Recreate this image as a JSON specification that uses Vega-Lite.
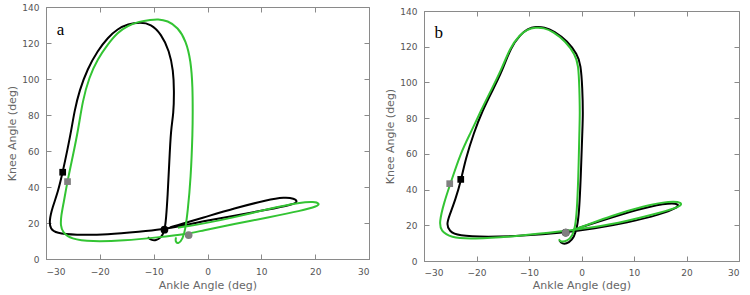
{
  "$schema": "https://vega.github.io/schema/vega-lite/v6.json",
  "padding": {"left": 6, "top": 2, "right": 5, "bottom": 0},
  "background": "white",
  "spacing": 14,
  "config": {
    "view": {"stroke": "#8a8a8a", "strokeWidth": 1},
    "axis": {
      "grid": false,
      "domainColor": "#8a8a8a",
      "tickColor": "#8a8a8a",
      "tickSize": -5,
      "labelFont": "DejaVu Sans",
      "labelFontSize": 9,
      "labelColor": "#555555",
      "titleFont": "DejaVu Sans",
      "titleFontSize": 11,
      "titleFontWeight": "normal",
      "titleColor": "#666666"
    }
  },
  "datasets": {
    "curves": [
      {"p":"a","s":"A","i":0,"x":-11.1,"y":12},
      {"p":"a","s":"A","i":1,"x":-10.5,"y":10.6},
      {"p":"a","s":"A","i":2,"x":-9.6,"y":10.2},
      {"p":"a","s":"A","i":3,"x":-8.6,"y":12},
      {"p":"a","s":"A","i":4,"x":-8.1,"y":14.8},
      {"p":"a","s":"A","i":5,"x":-7.9,"y":17.5},
      {"p":"a","s":"A","i":6,"x":-7.7,"y":22.2},
      {"p":"a","s":"A","i":7,"x":-7.4,"y":35.2},
      {"p":"a","s":"A","i":8,"x":-7.1,"y":53.7},
      {"p":"a","s":"A","i":9,"x":-6.8,"y":72.2},
      {"p":"a","s":"A","i":10,"x":-6.3,"y":80.6},
      {"p":"a","s":"A","i":11,"x":-6.2,"y":93.5},
      {"p":"a","s":"A","i":12,"x":-6.35,"y":104.6},
      {"p":"a","s":"A","i":13,"x":-7.1,"y":115.7},
      {"p":"a","s":"A","i":14,"x":-8.6,"y":125},
      {"p":"a","s":"A","i":15,"x":-10.5,"y":130.6},
      {"p":"a","s":"A","i":16,"x":-12.5,"y":131.5},
      {"p":"a","s":"A","i":17,"x":-14.8,"y":130.6},
      {"p":"a","s":"A","i":18,"x":-16.7,"y":127.8},
      {"p":"a","s":"A","i":19,"x":-18.5,"y":123.1},
      {"p":"a","s":"A","i":20,"x":-20.4,"y":115.7},
      {"p":"a","s":"A","i":21,"x":-22.3,"y":105.6},
      {"p":"a","s":"A","i":22,"x":-23.8,"y":93.5},
      {"p":"a","s":"A","i":23,"x":-24.7,"y":82.4},
      {"p":"a","s":"A","i":24,"x":-25.3,"y":71.5},
      {"p":"a","s":"A","i":25,"x":-26,"y":61},
      {"p":"a","s":"A","i":26,"x":-26.9,"y":48.2},
      {"p":"a","s":"A","i":27,"x":-27.8,"y":37},
      {"p":"a","s":"A","i":28,"x":-28.8,"y":28.7},
      {"p":"a","s":"A","i":29,"x":-29.4,"y":21.3},
      {"p":"a","s":"A","i":30,"x":-29.2,"y":16.7},
      {"p":"a","s":"A","i":31,"x":-28.1,"y":14.3},
      {"p":"a","s":"A","i":32,"x":-24.7,"y":13.3},
      {"p":"a","s":"A","i":33,"x":-18.5,"y":13.5},
      {"p":"a","s":"A","i":34,"x":-12.4,"y":15.2},
      {"p":"a","s":"A","i":35,"x":-8.7,"y":16.3},
      {"p":"a","s":"A","i":36,"x":-4.5,"y":18.6},
      {"p":"a","s":"A","i":37,"x":-1.2,"y":20.7},
      {"p":"a","s":"A","i":38,"x":5,"y":24.1},
      {"p":"a","s":"A","i":39,"x":11.2,"y":27.4},
      {"p":"a","s":"A","i":40,"x":15.8,"y":30.2},
      {"p":"a","s":"A","i":41,"x":16.8,"y":31.8},
      {"p":"a","s":"A","i":42,"x":16.1,"y":33.7},
      {"p":"a","s":"A","i":43,"x":14.3,"y":34.3},
      {"p":"a","s":"A","i":44,"x":11.2,"y":32.9},
      {"p":"a","s":"A","i":45,"x":5,"y":28.2},
      {"p":"a","s":"A","i":46,"x":-1.2,"y":22.6},
      {"p":"a","s":"A","i":47,"x":-4.5,"y":19.8},
      {"p":"a","s":"A","i":48,"x":-7,"y":17.5},
      {"p":"a","s":"B","i":0,"x":-5.85,"y":12},
      {"p":"a","s":"B","i":1,"x":-6,"y":9.6},
      {"p":"a","s":"B","i":2,"x":-5.4,"y":8.3},
      {"p":"a","s":"B","i":3,"x":-4.6,"y":11.1},
      {"p":"a","s":"B","i":4,"x":-4.1,"y":16.7},
      {"p":"a","s":"B","i":5,"x":-3.7,"y":25.9},
      {"p":"a","s":"B","i":6,"x":-3.1,"y":44.4},
      {"p":"a","s":"B","i":7,"x":-2.75,"y":72.2},
      {"p":"a","s":"B","i":8,"x":-2.75,"y":80.6},
      {"p":"a","s":"B","i":9,"x":-2.75,"y":95.4},
      {"p":"a","s":"B","i":10,"x":-3.1,"y":110.2},
      {"p":"a","s":"B","i":11,"x":-4,"y":121.3},
      {"p":"a","s":"B","i":12,"x":-5.5,"y":128.7},
      {"p":"a","s":"B","i":13,"x":-7.4,"y":132.4},
      {"p":"a","s":"B","i":14,"x":-9.25,"y":133.3},
      {"p":"a","s":"B","i":15,"x":-10.5,"y":132.9},
      {"p":"a","s":"B","i":16,"x":-12.7,"y":132},
      {"p":"a","s":"B","i":17,"x":-14.8,"y":129.6},
      {"p":"a","s":"B","i":18,"x":-16.7,"y":125.9},
      {"p":"a","s":"B","i":19,"x":-18.5,"y":119.4},
      {"p":"a","s":"B","i":20,"x":-20.4,"y":111.1},
      {"p":"a","s":"B","i":21,"x":-22,"y":100.9},
      {"p":"a","s":"B","i":22,"x":-23.2,"y":87.9},
      {"p":"a","s":"B","i":23,"x":-24,"y":72},
      {"p":"a","s":"B","i":24,"x":-25,"y":57.4},
      {"p":"a","s":"B","i":25,"x":-26,"y":43.5},
      {"p":"a","s":"B","i":26,"x":-26.7,"y":31.5},
      {"p":"a","s":"B","i":27,"x":-27.2,"y":24},
      {"p":"a","s":"B","i":28,"x":-27.3,"y":18.5},
      {"p":"a","s":"B","i":29,"x":-26.9,"y":14.8},
      {"p":"a","s":"B","i":30,"x":-25.4,"y":11.1},
      {"p":"a","s":"B","i":31,"x":-21.6,"y":9.6},
      {"p":"a","s":"B","i":32,"x":-15.5,"y":10.2},
      {"p":"a","s":"B","i":33,"x":-9.3,"y":12},
      {"p":"a","s":"B","i":34,"x":-3.7,"y":13.9},
      {"p":"a","s":"B","i":35,"x":-1.2,"y":15.7},
      {"p":"a","s":"B","i":36,"x":5,"y":19.4},
      {"p":"a","s":"B","i":37,"x":11.2,"y":23.1},
      {"p":"a","s":"B","i":38,"x":17.4,"y":26.8},
      {"p":"a","s":"B","i":39,"x":20.5,"y":29.3},
      {"p":"a","s":"B","i":40,"x":20.8,"y":30.9},
      {"p":"a","s":"B","i":41,"x":19.8,"y":31.8},
      {"p":"a","s":"B","i":42,"x":17.4,"y":31.5},
      {"p":"a","s":"B","i":43,"x":11.2,"y":27.8},
      {"p":"a","s":"B","i":44,"x":5,"y":23.1},
      {"p":"a","s":"B","i":45,"x":-1.2,"y":19.4},
      {"p":"a","s":"B","i":46,"x":-4.3,"y":18},
      {"p":"a","s":"B","i":47,"x":-5.5,"y":17.4},
      {"p":"b","s":"A","i":0,"x":-4.2,"y":11.5},
      {"p":"b","s":"A","i":1,"x":-3.96,"y":10.3},
      {"p":"b","s":"A","i":2,"x":-3.3,"y":9.4},
      {"p":"b","s":"A","i":3,"x":-2.4,"y":10.3},
      {"p":"b","s":"A","i":4,"x":-1.4,"y":13.1},
      {"p":"b","s":"A","i":5,"x":-0.8,"y":19.6},
      {"p":"b","s":"A","i":6,"x":-0.46,"y":27.1},
      {"p":"b","s":"A","i":7,"x":-0.15,"y":45.7},
      {"p":"b","s":"A","i":8,"x":0.17,"y":73.7},
      {"p":"b","s":"A","i":9,"x":0.29,"y":82.1},
      {"p":"b","s":"A","i":10,"x":0.17,"y":97.1},
      {"p":"b","s":"A","i":11,"x":-0.15,"y":110.1},
      {"p":"b","s":"A","i":12,"x":-0.8,"y":115.7},
      {"p":"b","s":"A","i":13,"x":-2.7,"y":123.2},
      {"p":"b","s":"A","i":14,"x":-5.2,"y":128.8},
      {"p":"b","s":"A","i":15,"x":-7.1,"y":131},
      {"p":"b","s":"A","i":16,"x":-8.7,"y":131.3},
      {"p":"b","s":"A","i":17,"x":-10.3,"y":130},
      {"p":"b","s":"A","i":18,"x":-11.6,"y":126.9},
      {"p":"b","s":"A","i":19,"x":-13.5,"y":119.5},
      {"p":"b","s":"A","i":20,"x":-15.1,"y":106.4},
      {"p":"b","s":"A","i":21,"x":-17,"y":95.2},
      {"p":"b","s":"A","i":22,"x":-18.9,"y":84},
      {"p":"b","s":"A","i":23,"x":-20.5,"y":71.9},
      {"p":"b","s":"A","i":24,"x":-22.1,"y":56.9},
      {"p":"b","s":"A","i":25,"x":-22.9,"y":45.7},
      {"p":"b","s":"A","i":26,"x":-24,"y":34.5},
      {"p":"b","s":"A","i":27,"x":-25.2,"y":25.2},
      {"p":"b","s":"A","i":28,"x":-25.7,"y":20.5},
      {"p":"b","s":"A","i":29,"x":-25.2,"y":16.8},
      {"p":"b","s":"A","i":30,"x":-23.6,"y":14},
      {"p":"b","s":"A","i":31,"x":-17.9,"y":13.4},
      {"p":"b","s":"A","i":32,"x":-11.6,"y":14},
      {"p":"b","s":"A","i":33,"x":-3.3,"y":15.9},
      {"p":"b","s":"A","i":34,"x":2.4,"y":18.2},
      {"p":"b","s":"A","i":35,"x":8.7,"y":21.5},
      {"p":"b","s":"A","i":36,"x":15.1,"y":26.1},
      {"p":"b","s":"A","i":37,"x":18.3,"y":29.9},
      {"p":"b","s":"A","i":38,"x":18.6,"y":31.7},
      {"p":"b","s":"A","i":39,"x":17,"y":32.7},
      {"p":"b","s":"A","i":40,"x":11.9,"y":29.9},
      {"p":"b","s":"A","i":41,"x":5.6,"y":24.3},
      {"p":"b","s":"A","i":42,"x":1,"y":20},
      {"p":"b","s":"A","i":43,"x":-1.5,"y":17.5},
      {"p":"b","s":"B","i":0,"x":-4.3,"y":12.2},
      {"p":"b","s":"B","i":1,"x":-4,"y":10.6},
      {"p":"b","s":"B","i":2,"x":-2.7,"y":11.2},
      {"p":"b","s":"B","i":3,"x":-1.7,"y":14},
      {"p":"b","s":"B","i":4,"x":-1.2,"y":19.5},
      {"p":"b","s":"B","i":5,"x":-0.9,"y":27},
      {"p":"b","s":"B","i":6,"x":-0.6,"y":45.7},
      {"p":"b","s":"B","i":7,"x":-0.4,"y":73.7},
      {"p":"b","s":"B","i":8,"x":-0.3,"y":82},
      {"p":"b","s":"B","i":9,"x":-0.4,"y":97},
      {"p":"b","s":"B","i":10,"x":-0.6,"y":110},
      {"p":"b","s":"B","i":11,"x":-1.2,"y":115.5},
      {"p":"b","s":"B","i":12,"x":-3,"y":123},
      {"p":"b","s":"B","i":13,"x":-5.4,"y":128.5},
      {"p":"b","s":"B","i":14,"x":-7.2,"y":130.6},
      {"p":"b","s":"B","i":15,"x":-8.8,"y":130.8},
      {"p":"b","s":"B","i":16,"x":-10.4,"y":129.6},
      {"p":"b","s":"B","i":17,"x":-11.8,"y":126.5},
      {"p":"b","s":"B","i":18,"x":-13.6,"y":119.5},
      {"p":"b","s":"B","i":19,"x":-15.3,"y":106.8},
      {"p":"b","s":"B","i":20,"x":-17.3,"y":95.2},
      {"p":"b","s":"B","i":21,"x":-19.2,"y":84},
      {"p":"b","s":"B","i":22,"x":-21.1,"y":71.9},
      {"p":"b","s":"B","i":23,"x":-23,"y":60.7},
      {"p":"b","s":"B","i":24,"x":-24.9,"y":43.9},
      {"p":"b","s":"B","i":25,"x":-26.2,"y":32.7},
      {"p":"b","s":"B","i":26,"x":-27.1,"y":21.5},
      {"p":"b","s":"B","i":27,"x":-26.8,"y":16.8},
      {"p":"b","s":"B","i":28,"x":-24.9,"y":13.1},
      {"p":"b","s":"B","i":29,"x":-21.1,"y":12.2},
      {"p":"b","s":"B","i":30,"x":-11.6,"y":14},
      {"p":"b","s":"B","i":31,"x":-3.3,"y":16.8},
      {"p":"b","s":"B","i":32,"x":2.4,"y":18.7},
      {"p":"b","s":"B","i":33,"x":8.7,"y":22.4},
      {"p":"b","s":"B","i":34,"x":15.1,"y":27.1},
      {"p":"b","s":"B","i":35,"x":18.9,"y":30.5},
      {"p":"b","s":"B","i":36,"x":19.2,"y":32.7},
      {"p":"b","s":"B","i":37,"x":17,"y":33.6},
      {"p":"b","s":"B","i":38,"x":11.9,"y":30.8},
      {"p":"b","s":"B","i":39,"x":5.6,"y":25.2},
      {"p":"b","s":"B","i":40,"x":0.5,"y":19.5},
      {"p":"b","s":"B","i":41,"x":-1.4,"y":17.7}
    ],
    "markers": [
      {"p":"a","s":"A","m":"start","x":-26.9,"y":48.2},
      {"p":"a","s":"B","m":"start","x":-26,"y":43},
      {"p":"a","s":"A","m":"mid","x":-8,"y":16.3},
      {"p":"a","s":"B","m":"mid","x":-3.5,"y":13.3},
      {"p":"b","s":"A","m":"start","x":-23,"y":45.7},
      {"p":"b","s":"B","m":"start","x":-25.1,"y":43.3},
      {"p":"b","s":"A","m":"mid","x":-3,"y":15.9},
      {"p":"b","s":"B","m":"mid","x":-3,"y":15.9}
    ],
    "labels": [
      {"p":"a","x":-27.3,"y":127,"t":"a"},
      {"p":"b","x":-27.2,"y":127.5,"t":"b"}
    ]
  },
  "hconcat": [
    {
      "width": 323,
      "height": 252,
      "layer": [
        {
          "data": {"name": "curves"},
          "transform": [{"filter": "datum.p === 'a'"}],
          "mark": {"type": "line", "strokeWidth": 2, "interpolate": "basis"},
          "encoding": {
            "x": {"field": "x", "type": "quantitative", "scale": {"domain": [-30, 30], "nice": false, "zero": false}, "axis": {"orient": "bottom", "values": [-30, -20, -10, 0, 10, 20, 30], "title": "Ankle Angle (deg)", "labelPadding": 13, "titlePadding": 3}},
            "y": {"field": "y", "type": "quantitative", "scale": {"domain": [0, 140], "nice": false}, "axis": {"orient": "left", "values": [0, 20, 40, 60, 80, 100, 120, 140], "title": "Knee Angle (deg)", "labelPadding": 12, "titlePadding": 4}},
            "color": {"field": "s", "type": "nominal", "scale": {"domain": ["A", "B"], "range": ["#000000", "#33c433"]}, "legend": null},
            "order": {"field": "i", "type": "quantitative"}
          }
        },
        {
          "data": {"name": "markers"},
          "transform": [{"filter": "datum.p === 'a'"}],
          "mark": {"type": "point", "filled": true, "opacity": 1},
          "encoding": {
            "x": {"field": "x", "type": "quantitative", "axis": null},
            "y": {"field": "y", "type": "quantitative", "axis": null},
            "shape": {"field": "m", "type": "nominal", "scale": {"domain": ["start", "mid"], "range": ["square", "circle"]}, "legend": null},
            "size": {"field": "m", "type": "nominal", "scale": {"domain": ["start", "mid"], "range": [45, 60]}, "legend": null},
            "color": {"field": "s", "type": "nominal", "scale": {"domain": ["A", "B"], "range": ["#000000", "#808080"]}, "legend": null}
          }
        },
        {
          "data": {"name": "labels"},
          "transform": [{"filter": "datum.p === 'a'"}],
          "mark": {"type": "text", "font": "Liberation Serif", "fontSize": 17, "color": "black", "align": "center", "baseline": "middle"},
          "encoding": {
            "x": {"field": "x", "type": "quantitative", "axis": {"orient": "top", "values": [-30, -20, -10, 0, 10, 20, 30], "labels": false, "title": null, "domain": false}},
            "y": {"field": "y", "type": "quantitative", "axis": {"orient": "right", "values": [0, 20, 40, 60, 80, 100, 120, 140], "labels": false, "title": null, "domain": false}},
            "text": {"field": "t"}
          }
        }
      ],
      "resolve": {"scale": {"color": "independent", "size": "independent", "shape": "independent"}, "axis": {"x": "independent", "y": "independent"}}
    },
    {
      "spacing": -2,
      "vconcat": [
        {
          "width": 315,
          "height": 1,
          "view": {"stroke": null},
          "data": {"values": [{}]},
          "mark": {"type": "point", "opacity": 0, "size": 0},
          "encoding": {}
        },
        {
          "width": 315,
          "height": 250,
          "layer": [
            {
              "data": {"name": "curves"},
              "transform": [{"filter": "datum.p === 'b'"}],
              "mark": {"type": "line", "strokeWidth": 2, "interpolate": "basis"},
              "encoding": {
                "x": {"field": "x", "type": "quantitative", "scale": {"domain": [-30, 30], "nice": false, "zero": false}, "axis": {"orient": "bottom", "values": [-30, -20, -10, 0, 10, 20, 30], "title": "Ankle Angle (deg)", "labelPadding": 12, "titlePadding": 2}},
                "y": {"field": "y", "type": "quantitative", "scale": {"domain": [0, 140], "nice": false}, "axis": {"orient": "left", "values": [0, 20, 40, 60, 80, 100, 120, 140], "title": "Knee Angle (deg)", "labelPadding": 12, "titlePadding": 4}},
                "color": {"field": "s", "type": "nominal", "scale": {"domain": ["A", "B"], "range": ["#000000", "#33c433"]}, "legend": null},
                "order": {"field": "i", "type": "quantitative"}
              }
            },
            {
              "data": {"name": "markers"},
              "transform": [{"filter": "datum.p === 'b'"}],
              "mark": {"type": "point", "filled": true, "opacity": 1},
              "encoding": {
                "x": {"field": "x", "type": "quantitative", "axis": null},
                "y": {"field": "y", "type": "quantitative", "axis": null},
                "shape": {"field": "m", "type": "nominal", "scale": {"domain": ["start", "mid"], "range": ["square", "circle"]}, "legend": null},
                "size": {"field": "m", "type": "nominal", "scale": {"domain": ["start", "mid"], "range": [45, 60]}, "legend": null},
                "color": {"field": "s", "type": "nominal", "scale": {"domain": ["A", "B"], "range": ["#000000", "#808080"]}, "legend": null}
              }
            },
            {
              "data": {"name": "labels"},
              "transform": [{"filter": "datum.p === 'b'"}],
              "mark": {"type": "text", "font": "Liberation Serif", "fontSize": 17, "color": "black", "align": "center", "baseline": "middle"},
              "encoding": {
                "x": {"field": "x", "type": "quantitative", "axis": {"orient": "top", "values": [-30, -20, -10, 0, 10, 20, 30], "labels": false, "title": null, "domain": false}},
                "y": {"field": "y", "type": "quantitative", "axis": {"orient": "right", "values": [0, 20, 40, 60, 80, 100, 120, 140], "labels": false, "title": null, "domain": false}},
                "text": {"field": "t"}
              }
            }
          ],
          "resolve": {"scale": {"color": "independent", "size": "independent", "shape": "independent"}, "axis": {"x": "independent", "y": "independent"}}
        }
      ]
    }
  ]
}
